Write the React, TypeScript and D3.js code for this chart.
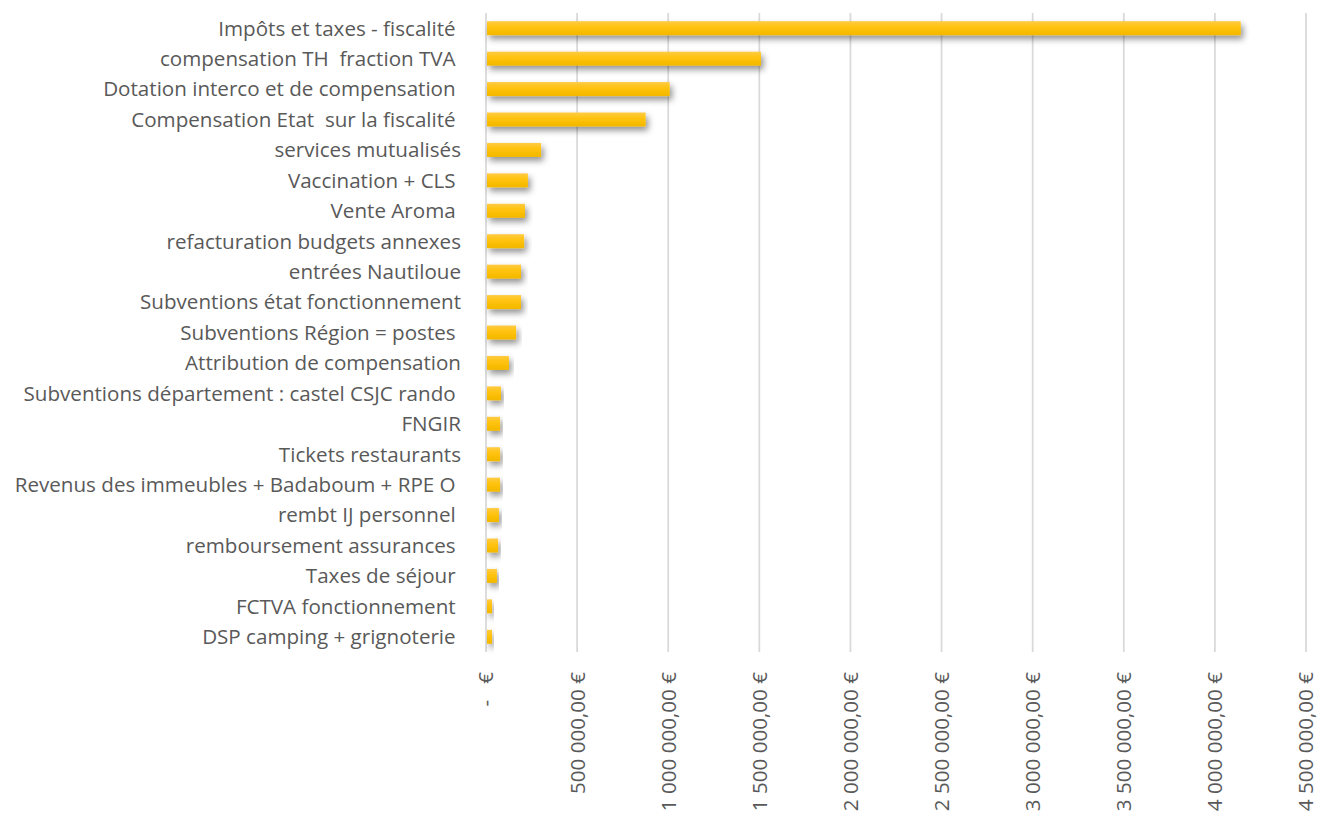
import React from "react";
import * as d3 from "d3";

const categories: string[] = [
  "Impôts et taxes - fiscalité ",
  "compensation TH  fraction TVA ",
  "Dotation interco et de compensation ",
  "Compensation Etat  sur la fiscalité ",
  "services mutualisés",
  "Vaccination + CLS ",
  "Vente Aroma ",
  "refacturation budgets annexes",
  "entrées Nautiloue",
  "Subventions état fonctionnement",
  "Subventions Région = postes ",
  "Attribution de compensation",
  "Subventions département : castel CSJC rando ",
  "FNGIR",
  "Tickets restaurants",
  "Revenus des immeubles + Badaboum + RPE O ",
  "rembt IJ personnel ",
  "remboursement assurances ",
  "Taxes de séjour ",
  "FCTVA fonctionnement ",
  "DSP camping + grignoterie ",
];

const values: number[] = [
  4142000, 1509000, 1008000, 876000, 302000, 230000, 214000, 209000, 192000,
  192000, 165000, 126000, 82000, 77000, 77000, 77000, 71000, 66000, 60000,
  33000, 33000,
];

const tickValues: number[] = [0, 500000, 1000000, 1500000, 2000000, 2500000, 3000000, 3500000, 4000000, 4500000];

const fmtTick = (v: number): string => {
  if (v === 0) return "-   €";
  const s = d3.format(",.2f")(v).replace(/,/g, " ").replace(".", ",");
  return s + " €";
};

const W = 1317;
const H = 816;
const plotTop = 13;
const plotBottom = 652;
const plotLeft = 486;
const plotRight = 1306;
const FONT = "'Open Sans', 'Noto Sans', sans-serif";
const TEXT = "#595959";

export default function App() {
  const x = d3.scaleLinear().domain([0, 4500000]).range([plotLeft, plotRight]);
  const y = d3
    .scaleBand<string>()
    .domain(categories)
    .range([plotTop, plotBottom])
    .paddingInner(0.54)
    .paddingOuter(0.27);

  return (
    <div style={{ position: "absolute", left: 0, top: 0 }}>
      <svg width={W} height={H} style={{ display: "block", background: "#fff" }}>
        <defs>
          <linearGradient id="barGrad" x1="0" y1="0" x2="0" y2="1">
            <stop offset="0%" stopColor="#FFCB45" />
            <stop offset="45%" stopColor="#FFC20A" />
            <stop offset="100%" stopColor="#F2B700" />
          </linearGradient>
          <filter id="shadow" x="-10%" y="-60%" width="130%" height="280%">
            <feDropShadow dx="2.5" dy="4" stdDeviation="3.2" floodColor="#000" floodOpacity="0.42" />
          </filter>
        </defs>
        {tickValues.map((t) => (
          <line
            key={"g" + t}
            x1={x(t)}
            x2={x(t)}
            y1={plotTop}
            y2={plotBottom}
            stroke="#D9D9D9"
            strokeWidth={1.75}
          />
        ))}
        {categories.map((c, i) => (
          <rect
            key={"b" + i}
            x={x(0) + 1}
            y={y(c)!}
            width={Math.max(0, x(values[i]) - x(0) - 1)}
            height={y.bandwidth()}
            fill="url(#barGrad)"
            filter="url(#shadow)"
          />
        ))}
        {categories.map((c, i) => (
          <text
            key={"l" + i}
            x={461}
            y={y(c)! + y.bandwidth() / 2}
            dy="0.36em"
            textAnchor="end"
            fontFamily={FONT}
            fontSize={20.6}
            fill={TEXT}
            style={{ whiteSpace: "pre" }}
          >
            {c}
          </text>
        ))}
        {tickValues.map((t) => (
          <text
            key={"t" + t}
            transform={`translate(${x(t)},${672}) rotate(-90)`}
            dy="0.36em"
            textAnchor="end"
            fontFamily={FONT}
            fontSize={20.6}
            fill={TEXT}
            style={{ whiteSpace: "pre" }}
          >
            {fmtTick(t)}
          </text>
        ))}
      </svg>
    </div>
  );
}
